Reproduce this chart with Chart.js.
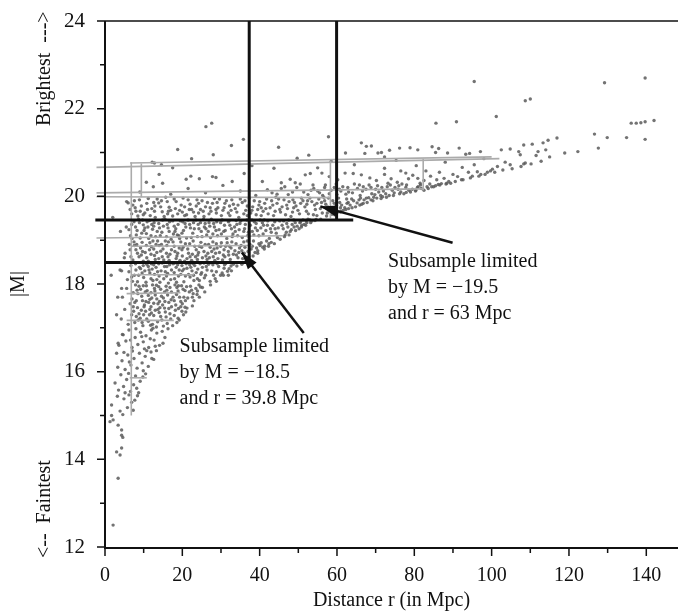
<!DOCTYPE html>
<html>
<head>
<meta charset="utf-8">
<script src="https://cdn.jsdelivr.net/npm/chart.js@4.4.1/dist/chart.umd.min.js"></script>
<style>
  html, body { margin: 0; padding: 0; background: #fff; }
</style>
</head>
<body>
<canvas id="c" width="682" height="616"></canvas>
<script>
// axis ticks
const xMajorTicks = [0, 20, 40, 60, 80, 100, 120, 140];
const xMinorTicks = [10, 30, 50, 70, 90, 110, 130];
const yMajorTicks = [12, 14, 16, 18, 20, 22, 24];
const yMinorTicks = [13, 15, 17, 19, 21, 23];

// galaxies: [distance r, |M|]
const galaxiesFaint = [
  [2.1,12.5],[3.4,13.57],[3.0,14.17],[3.9,14.1],[4.3,14.26],[4.3,14.55],[4.3,14.67],[3.4,14.78],[1.3,14.86],[2.1,14.9],[4.6,14.5],[1.7,15.0],
  [1.7,15.24],[3.9,15.1],[4.6,15.02],[5.8,15.18],[6.9,15.3],[7.7,15.35],[4.9,15.38],[8.4,15.45],[3.2,15.44],[6.2,15.47],[7.3,15.12],
  [2.6,15.74],[3.5,15.58],[4.8,15.66],[5.6,15.82],[6.6,15.55],[7.4,15.7],[8.2,15.62],[9.1,15.78],[9.8,15.88],[4.1,15.93],[6.1,15.96],[7.9,15.9],[10.5,15.95],[8.7,15.52],[5.2,15.52],
  [3.3,16.1],[4.4,16.25],[5.2,16.05],[5.9,16.38],[6.7,16.15],[7.5,16.3],[8.3,16.08],[8.9,16.42],[9.6,16.2],[10.4,16.35],[11.2,16.12],[11.9,16.45],[12.6,16.28],[13.3,16.48],[7.1,16.47],[9.9,16.02],[6.3,16.22],[10.8,16.48],[4.9,16.44],[12.1,16.3],[3.0,16.42],
  [3.6,16.6],[4.5,16.85],[5.4,16.7],[6.2,16.95],[7.0,16.55],[7.8,16.78],[8.5,16.62],[9.2,16.9],[9.9,16.68],[10.6,16.82],[11.3,16.55],[12.0,16.95],[12.7,16.72],[13.4,16.88],[14.1,16.6],[14.8,16.92],[15.5,16.78],[16.3,16.98],[8.0,16.98],[10.2,16.52],[11.7,16.75],[13.0,16.58],[6.6,16.72],[15.0,16.65],[9.5,16.8],[12.4,16.99],[3.4,16.65],[4.7,16.84]
];

const galaxiesMid = [
  [4.2,17.2],[5.1,17.42],[6.0,17.08],[6.9,17.3],[7.7,17.12],[8.4,17.46],[9.1,17.22],[9.8,17.05],[10.5,17.38],[11.2,17.15],[11.9,17.48],[12.6,17.28],[13.3,17.02],[14.0,17.35],[14.7,17.18],[15.4,17.45],[16.1,17.1],[16.8,17.32],[17.5,17.05],[18.2,17.4],[18.9,17.22],[19.6,17.48],[20.3,17.3],[21.2,17.45],[8.8,17.32],[10.1,17.48],[12.3,17.08],[13.7,17.42],[15.8,17.25],[17.2,17.48],[7.3,17.48],[11.5,17.3],
  [4.5,17.7],[5.6,17.9],[6.5,17.55],[7.3,17.8],[8.1,17.62],[8.8,17.95],[9.5,17.72],[10.2,17.52],[10.9,17.85],[11.6,17.65],[12.3,17.98],[13.0,17.75],[13.7,17.55],[14.4,17.88],[15.1,17.68],[15.8,17.95],[16.5,17.58],[17.2,17.82],[17.9,17.62],[18.6,17.92],[19.3,17.7],[20.0,17.55],[20.7,17.85],[21.4,17.68],[22.1,17.95],[22.8,17.78],[23.5,17.9],[24.3,17.98],[25.2,17.92],[9.2,17.88],[11.3,17.58],[12.8,17.9],[14.9,17.52],[16.2,17.75],[18.3,17.52],[19.8,17.96],[21.8,17.82],[13.4,17.66],[7.9,17.98],[23.0,17.62],
  [4.3,18.3],[5.8,18.1],[6.7,18.42],[7.6,18.2],[8.4,18.05],[9.2,18.35],[10.0,18.15],[10.8,18.45],[11.6,18.25],[12.4,18.08],[13.2,18.38],[14.0,18.18],[14.8,18.48],[15.6,18.28],[16.4,18.02],[17.2,18.32],[18.0,18.12],[18.8,18.44],[19.6,18.22],[20.4,18.05],[21.2,18.36],[22.0,18.16],[22.8,18.46],[23.6,18.26],[24.4,18.08],[25.2,18.38],[26.0,18.2],[26.8,18.45],[27.6,18.3],[28.5,18.12],[29.4,18.4],[30.3,18.25],[31.2,18.46],[32.1,18.35],[33.2,18.45],[9.6,18.25],[11.2,18.4],[13.6,18.28],[15.2,18.12],[17.6,18.46],[19.2,18.32],[21.6,18.22],[23.2,18.42],[24.8,18.22],[27.2,18.06],[8.0,18.32],[12.0,18.46],[16.0,18.4],[20.0,18.3],[25.6,18.48],
  [5.2,18.7],[6.3,18.9],[7.2,18.55],[8.0,18.78],[8.8,18.62],[9.6,18.95],[10.4,18.72],[11.2,18.52],[12.0,18.85],[12.8,18.65],[13.6,18.98],[14.4,18.75],[15.2,18.55],[16.0,18.88],[16.8,18.68],[17.6,18.96],[18.4,18.58],[19.2,18.82],[20.0,18.64],[20.8,18.92],[21.6,18.7],[22.4,18.54],[23.2,18.86],[24.0,18.66],[24.8,18.95],[25.6,18.74],[26.4,18.56],[27.2,18.84],[28.0,18.62],[28.8,18.92],[29.6,18.72],[30.4,18.55],[31.2,18.86],[32.0,18.66],[32.8,18.96],[33.6,18.76],[34.4,18.6],[35.2,18.88],[36.0,18.7],[36.8,18.98],[37.8,18.8],[38.8,18.72],[39.8,18.92],[40.8,18.84],[41.8,18.98],[43.0,18.95],[9.2,18.82],[10.8,18.6],[13.2,18.9],[14.8,18.62],[17.2,18.78],[18.8,18.7],[21.2,18.58],[22.8,18.98],[25.2,18.6],[26.8,18.9],[29.2,18.58],[30.8,18.78],[33.2,18.68],[34.8,18.82],[37.2,18.62],[11.6,18.94],[15.6,18.98],[19.6,18.96],[23.6,18.78],[27.6,18.74],[31.6,18.94],[35.6,18.58],[39.2,18.82],[7.6,18.88],
  [3.9,18.32],[4.3,17.9],[3.0,17.3],[3.3,17.7],[5.0,18.6],[1.6,18.2]
];

const galaxiesBright = [
  [5.5,19.3],[6.6,19.1],[7.5,19.42],[8.3,19.22],[9.1,19.05],[9.9,19.35],[10.7,19.15],[11.5,19.45],[12.3,19.25],[13.1,19.08],[13.9,19.38],[14.7,19.18],[15.5,19.48],[16.3,19.28],[17.1,19.02],[17.9,19.32],[18.7,19.12],[19.5,19.44],[20.3,19.22],[21.1,19.05],[21.9,19.36],[22.7,19.16],[23.5,19.46],[24.3,19.26],[25.1,19.08],[25.9,19.38],[26.7,19.2],[27.5,19.48],[28.3,19.3],[29.1,19.1],[29.9,19.4],[30.7,19.2],[31.5,19.04],[32.3,19.34],[33.1,19.14],[33.9,19.45],[34.7,19.24],[35.5,19.06],[36.3,19.36],[37.1,19.18],[38.0,19.46],[38.9,19.28],[39.8,19.1],[40.7,19.4],[41.6,19.22],[42.5,19.04],[43.4,19.34],[44.3,19.16],[45.2,19.44],[46.1,19.26],[47.0,19.38],[47.9,19.2],[48.8,19.46],[49.7,19.32],[50.6,19.42],[51.5,19.36],[52.5,19.48],[53.5,19.44],[54.6,19.47],[10.3,19.28],[12.7,19.4],[14.3,19.1],[16.7,19.42],[18.3,19.26],[20.7,19.38],[22.3,19.06],[24.7,19.4],[26.3,19.12],[28.7,19.22],[30.3,19.46],[32.7,19.26],[34.3,19.1],[36.7,19.46],[38.5,19.12],[40.3,19.28],[42.1,19.44],[44.8,19.28],[46.6,19.12],[48.4,19.36],[50.2,19.26],[8.7,19.48],[19.1,19.1],[27.1,19.32],[35.1,19.44],
  [6.5,19.7],[7.6,19.9],[8.5,19.55],[9.4,19.78],[10.3,19.62],[11.2,19.95],[12.1,19.72],[13.0,19.52],[13.9,19.85],[14.8,19.65],[15.7,19.98],[16.6,19.75],[17.5,19.55],[18.4,19.88],[19.3,19.68],[20.2,19.96],[21.1,19.58],[22.0,19.82],[22.9,19.64],[23.8,19.92],[24.7,19.7],[25.6,19.54],[26.5,19.86],[27.4,19.66],[28.3,19.95],[29.2,19.74],[30.1,19.56],[31.0,19.84],[31.9,19.62],[32.8,19.92],[33.7,19.72],[34.6,19.52],[35.5,19.86],[36.4,19.68],[37.3,19.96],[38.2,19.76],[39.1,19.58],[40.0,19.88],[40.9,19.66],[41.8,19.94],[42.7,19.74],[43.6,19.56],[44.5,19.84],[45.4,19.64],[46.3,19.92],[47.2,19.72],[48.1,19.54],[49.0,19.86],[49.9,19.68],[50.8,19.96],[51.7,19.76],[52.6,19.6],[53.5,19.88],[54.4,19.7],[55.3,19.94],[56.2,19.62],[57.1,19.82],[58.0,19.72],[58.9,19.9],[59.8,19.78],[60.7,19.86],[61.6,19.68],[62.5,19.94],[63.4,19.8],[64.3,19.9],[65.2,19.85],[66.1,19.96],[67.0,19.92],[68.2,19.97],[69.5,19.98],[54.8,19.56],[57.5,19.62],[60.2,19.64],[62.0,19.74],[64.8,19.76],[66.8,19.84],[16.2,19.6],[24.2,19.84],[32.2,19.78],[40.4,19.74],[48.6,19.92],[12.6,19.86],[20.6,19.76],[28.8,19.62],[36.8,19.56],[44.2,19.98],[52.2,19.82],[56.6,19.98],[59.4,19.58],[6.0,19.85],[5.6,19.88],[2.0,19.52],[4.0,19.2],
  [9.0,20.1],[12.5,20.22],[17.0,20.05],[21.5,20.18],[26.0,20.08],[30.5,20.25],[35.0,20.12],[39.0,20.02],[42.0,20.15],[44.5,20.05],[46.5,20.22],[48.5,20.1],[50.5,20.28],[52.5,20.04],[54.0,20.18],[55.5,20.08],[57.0,20.26],[58.5,20.14],[60.0,20.04],[61.5,20.22],[63.0,20.1],[64.5,20.28],[66.0,20.02],[67.5,20.16],[69.0,20.06],[70.5,20.24],[72.0,20.12],[73.5,20.02],[75.0,20.2],[76.5,20.1],[78.0,20.26],[79.5,20.16],[81.0,20.22],[82.5,20.14],[84.0,20.28],[85.5,20.24],[87.0,20.29],[62.3,20.05],[65.3,20.18],[68.3,20.26],[71.3,20.02],[74.3,20.14],[77.3,20.06],[80.3,20.12],[83.3,20.22],[59.3,20.2],[56.3,20.02],[53.3,20.14],[73.0,20.22],[70.0,20.16],[76.0,20.24],[79.0,20.1]
];

// the packed middle of the cloud
const galaxiesCore = [
  [7.4,17.38],[8.6,17.18],[9.4,17.4],[10.8,17.2],[11.8,17.06],[13.0,17.4],[14.4,17.26],[15.1,17.04],[16.5,17.44],[17.9,17.28],[18.6,17.12],[19.9,17.38],[20.7,17.47],[12.0,17.34],[9.6,17.12],
  [7.0,17.66],[7.7,17.58],[8.5,17.78],[9.9,17.96],[10.6,17.6],[11.9,17.8],[12.6,17.56],[13.9,17.94],[14.6,17.72],[15.5,17.6],[16.8,17.92],[17.6,17.7],[18.9,17.84],[19.6,17.6],[20.4,17.7],[21.1,17.94],[22.4,17.86],[23.9,17.84],[24.7,17.93],[10.4,17.82],[12.1,17.68],[16.0,17.86],[18.1,17.98],[20.2,17.88],
  [6.2,18.28],[7.1,18.06],[7.9,18.46],[8.7,18.2],[9.9,18.42],[10.6,18.04],[11.4,18.32],[12.8,18.22],[13.9,18.46],[14.5,18.3],[15.9,18.18],[16.7,18.44],[17.9,18.26],[18.5,18.04],[19.9,18.42],[20.8,18.18],[21.9,18.44],[22.5,18.3],[23.9,18.12],[24.6,18.46],[25.7,18.14],[26.4,18.32],[27.9,18.44],[28.8,18.28],[29.9,18.2],[30.8,18.36],[31.7,18.29],[32.6,18.41],[11.9,18.12],[16.2,18.24],[20.4,18.34],[25.0,18.26],[13.4,18.1],[18.4,18.38],[22.9,18.2],
  [6.7,18.62],[7.5,18.96],[8.4,18.7],[9.9,18.52],[10.7,18.88],[11.9,18.68],[12.4,18.98],[13.9,18.58],[14.6,18.9],[15.9,18.7],[16.6,18.54],[17.9,18.86],[18.6,18.64],[19.9,18.78],[20.6,18.52],[21.9,18.92],[22.6,18.68],[23.9,18.56],[24.4,18.86],[25.9,18.9],[26.6,18.7],[27.9,18.96],[28.4,18.54],[29.9,18.86],[30.6,18.66],[31.9,18.74],[32.4,18.56],[33.9,18.92],[34.6,18.72],[35.9,18.96],[36.4,18.6],[37.5,18.9],[38.4,18.98],[39.5,18.76],[40.4,18.94],[41.3,18.86],[42.4,18.92],[9.4,18.66],[12.6,18.8],[16.4,18.96],[20.2,18.84],[24.2,18.72],[28.2,18.8],[32.2,18.86],[36.2,18.84],[13.0,18.56],[27.0,18.6],[31.0,18.62],
  [6.2,19.24],[7.0,19.04],[7.9,19.3],[8.9,19.4],[9.5,19.16],[10.9,19.42],[11.9,19.1],[12.6,19.32],[13.5,19.2],[14.9,19.46],[15.9,19.08],[16.6,19.2],[17.5,19.44],[18.9,19.36],[19.9,19.16],[20.9,19.3],[21.5,19.46],[22.9,19.4],[23.9,19.08],[24.9,19.2],[25.5,19.48],[26.9,19.4],[27.9,19.14],[28.9,19.42],[29.5,19.24],[30.9,19.34],[31.9,19.42],[32.9,19.08],[33.5,19.3],[34.9,19.38],[35.9,19.2],[36.9,19.1],[37.6,19.34],[38.6,19.42],[39.4,19.22],[40.9,19.14],[41.2,19.46],[42.8,19.26],[43.9,19.42],[44.6,19.06],[45.8,19.34],[46.9,19.18],[47.5,19.46],[48.2,19.24],[49.2,19.4],[50.9,19.34],[51.2,19.46],[52.2,19.4],[53.0,19.46],[11.1,19.3],[15.1,19.32],[23.1,19.26],[31.1,19.22],[39.1,19.38],[43.0,19.18],[47.3,19.3],[9.7,19.46],[17.7,19.14],[25.7,19.3],[33.7,19.2],[41.0,19.34],
  [6.9,19.6],[7.2,19.8],[8.0,19.66],[8.9,19.92],[9.9,19.58],[10.8,19.84],[11.7,19.56],[12.8,19.66],[13.5,19.94],[14.4,19.76],[15.3,19.54],[16.1,19.88],[17.0,19.68],[17.9,19.94],[18.8,19.6],[19.7,19.8],[20.6,19.56],[21.5,19.92],[22.4,19.7],[23.3,19.54],[24.2,19.62],[25.1,19.9],[26.0,19.76],[26.9,19.6],[27.8,19.84],[28.7,19.7],[29.6,19.94],[30.5,19.68],[31.4,19.9],[32.3,19.56],[33.2,19.82],[34.1,19.64],[35.0,19.94],[35.9,19.6],[36.8,19.78],[37.7,19.62],[38.6,19.9],[39.5,19.7],[40.4,19.56],[41.3,19.84],[42.2,19.6],[43.1,19.9],[44.0,19.66],[44.9,19.94],[45.8,19.76],[46.7,19.58],[47.6,19.88],[48.5,19.64],[49.4,19.78],[50.3,19.6],[51.2,19.9],[52.1,19.66],[53.0,19.96],[53.9,19.58],[54.8,19.84],[55.7,19.72],[56.8,19.9],[57.8,19.96],[58.4,19.66],[59.3,19.84],[60.4,19.96],[61.2,19.8],[62.9,19.86],[63.8,19.94],[65.7,19.92],[67.6,19.96],[68.8,19.92],[70.3,19.96],[71.8,19.99],[63.0,19.72],[65.9,19.8],[61.0,19.66],
  [43.2,20.08],[45.6,20.18],[47.4,20.04],[49.6,20.2],[51.4,20.1],[53.8,20.26],[55.0,20.12],[56.8,20.2],[58.0,20.06],[59.8,20.28],[61.0,20.12],[62.8,20.2],[64.0,20.08],[65.8,20.26],[66.6,20.12],[68.8,20.2],[69.8,20.04],[71.6,20.2],[72.6,20.06],[74.8,20.08],[75.8,20.16],[77.8,20.2],[78.6,20.14],[80.8,20.2],[81.6,20.26],[83.6,20.18],[85.0,20.22],[86.6,20.26],[88.2,20.28],[89.4,20.3],[60.6,20.16],[66.8,20.22],[70.8,20.1],[76.8,20.28],[73.8,20.26]
];

const galaxiesFill = [
  [8.1,17.26],[10.0,17.3],[11.6,17.42],[13.6,17.14],[15.6,17.36],[17.0,17.2],[19.0,17.44],[14.2,17.46],
  [8.3,17.86],[9.7,17.62],[11.2,17.74],[12.9,17.84],[14.1,17.6],[15.4,17.82],[17.1,17.64],[18.5,17.76],[20.8,17.62],[22.6,17.7],[23.8,17.76],[19.0,17.96],[13.3,17.97],[10.7,17.96],
  [6.9,18.16],[8.9,18.38],[10.3,18.3],[12.2,18.34],[14.2,18.04],[15.4,18.4],[17.0,18.1],[19.0,18.18],[21.0,18.46],[23.0,18.08],[24.0,18.34],[26.2,18.4],[28.1,18.2],[29.0,18.46],[30.9,18.44],[31.9,18.2],[18.0,18.48],[22.2,18.38],[12.6,18.44],
  [6.5,18.78],[8.2,18.9],[9.7,18.74],[11.5,18.78],[13.4,18.72],[15.0,18.8],[16.3,18.62],[18.1,18.74],[19.4,18.54],[21.4,18.8],[23.4,18.62],[25.0,18.84],[26.1,18.64],[28.6,18.7],[30.1,18.94],[32.6,18.82],[34.0,18.66],[35.4,18.76],[37.0,18.74],[38.1,18.86],[40.1,18.88],[14.0,18.88],[22.0,18.62],[29.0,18.82],
  [6.9,19.36],[8.1,19.12],[10.1,19.22],[12.1,19.36],[14.1,19.28],[16.1,19.36],[18.1,19.2],[20.1,19.42],[22.1,19.28],[24.1,19.36],[26.1,19.26],[28.1,19.38],[30.1,19.14],[32.1,19.44],[34.1,19.36],[36.1,19.26],[38.1,19.2],[40.1,19.46],[42.0,19.34],[44.0,19.26],[46.2,19.44],[48.9,19.3],[50.4,19.4],[52.0,19.44],[27.3,19.06],[19.3,19.04],[11.3,19.04],
  [7.8,19.74],[9.1,19.66],[11.0,19.7],[12.9,19.78],[14.6,19.9],[16.4,19.66],[18.2,19.72],[20.0,19.64],[21.8,19.7],[23.6,19.78],[25.4,19.66],[27.2,19.74],[29.0,19.86],[30.8,19.74],[32.6,19.68],[34.4,19.8],[36.2,19.9],[38.0,19.68],[39.8,19.8],[41.6,19.72],[43.4,19.8],[45.2,19.7],[47.0,19.8],[48.8,19.74],[50.6,19.84],[52.4,19.9],[54.2,19.8],[56.0,19.86],[57.6,19.76],[59.0,19.7],[60.9,19.74],[62.6,19.84]
];

// the crowded lower-right edge of the cloud
const galaxiesEdge = [
  [19.2,17.18],[20.9,17.36],[22.6,17.5],[24.4,17.7],[25.8,17.82],[27.3,17.98],[28.8,18.06],[30.6,18.2],[32.7,18.3],[34.1,18.41],[35.4,18.45],[36.9,18.6],[38.3,18.64],[39.5,18.7],[41.2,18.8],[42.3,18.86],[43.8,18.92],[45.3,19.02],[46.4,19.08],[47.6,19.12],[49.3,19.22],[50.8,19.3],[51.9,19.34],[53.2,19.4],[54.3,19.45],[55.8,19.48],[57.3,19.55],[58.7,19.59],[60.9,19.64],[62.3,19.7],[63.9,19.74],[66.4,19.82],[67.8,19.86],[69.3,19.9],[71.4,19.95],[72.8,19.98],[74.6,20.02],[76.2,20.06],[77.9,20.09],[80.4,20.14],[81.8,20.18],[84.5,20.22],[86.2,20.27],[88.4,20.3],[90.6,20.34],[92.2,20.38],[94.5,20.42],[96.7,20.46],[98.3,20.5],[100.8,20.55],[102.9,20.6],[105.3,20.63],[107.6,20.68],[110.2,20.74],[112.8,20.8]
];

const galaxiesTop = [
  [10.7,20.32],[14.0,20.5],[14.9,20.3],[21.0,20.39],[22.2,20.46],[24.4,20.4],[27.8,20.45],[28.7,20.43],[32.9,20.34],[40.7,20.34],[45.6,20.31],[47.9,20.39],[49.2,20.31],[51.8,20.49],[53.1,20.52],[56.1,20.53],[62.1,20.53],[64.2,20.52],[66.3,20.49],[68.5,20.42],[70.2,20.36],[72.3,20.5],[74.0,20.4],[75.6,20.32],[76.5,20.58],[77.8,20.53],[79.6,20.48],[80.9,20.41],[82.5,20.36],[84.2,20.46],[85.8,20.38],[87.7,20.41],[88.9,20.34],[90.0,20.5],[91.2,20.45],[92.6,20.38],[94.0,20.55],[95.0,20.46],[96.3,20.56],[97.2,20.5],[98.9,20.55],[99.7,20.58],[86.5,20.55],[83.0,20.58],[78.5,20.4],[73.2,20.3],[81.5,20.3],[60.2,20.38],[58.0,20.45],[36.0,20.52],
  [12.2,20.78],[12.8,20.76],[14.6,20.72],[22.4,20.86],[18.8,21.07],[32.7,21.16],[43.7,20.64],[44.9,21.12],[49.7,20.87],[52.7,20.94],[62.2,20.99],[66.3,21.22],[67.6,21.14],[68.9,21.15],[67.2,20.98],[70.6,20.99],[71.5,21.0],[72.3,20.9],[72.3,20.64],[73.6,21.05],[76.2,21.1],[78.9,21.11],[80.9,21.06],[84.6,21.13],[85.5,21.0],[86.3,21.09],[88.6,20.99],[91.6,21.1],[93.3,20.96],[94.3,20.98],[95.5,20.72],[97.1,21.02],[100.2,20.62],[101.5,20.68],[102.5,21.06],[103.5,20.78],[104.8,21.08],[104.8,20.72],[107.0,21.02],[107.4,20.95],[108.3,21.17],[108.3,20.74],[108.7,20.76],[110.5,21.19],[111.5,20.93],[112.0,21.02],[113.3,21.22],[114.0,21.06],[114.6,21.28],[115.0,20.9],[116.9,21.33],[118.9,20.99],[122.3,21.02],[126.6,21.42],[127.6,21.1],[129.9,21.34],[134.9,21.34],[139.7,21.3],[75.3,20.82],[80.5,20.7],[88.0,20.78],[92.4,20.66],[98.0,20.86],[64.5,20.72],[58.5,20.8],[55.0,20.65],[38.0,20.7],[28.0,20.95],[17.5,20.65],
  [26.1,21.59],[27.6,21.67],[57.8,21.36],[85.6,21.67],[90.9,21.7],[101.2,21.82],[95.5,22.62],[108.7,22.18],[110.0,22.22],[129.2,22.59],[136.1,21.67],[137.4,21.67],[138.6,21.68],[139.7,21.7],[142.0,21.73],[139.7,22.7],[35.8,21.3]
];

// thin grey outlines of the nested subsamples: [x1, y1, x2, y2]
const guideLines = [
  [-2.2,20.66,102,20.86],[6.5,20.76,100,20.9],[-2.2,20.08,82.3,20.17],[-2.2,19.99,58.3,19.97],
  [82.3,20.86,82.3,20.14],[58.3,20.8,58.3,19.5],[6.8,20.78,6.8,15.0],[9.4,20.75,9.4,19.98],
  [-2.2,19.05,46,19.1],[6.8,18.86,38,18.88],[6.8,18.21,23,18.21],[5.6,17.78,19.5,17.8],
  [5.6,17.17,17.8,17.17],[6.4,15.86,10.8,15.86]
];

// thick black limits of the two subsamples
const limitA = [[0,18.49],[37.3,18.49],[37.3,24]];
const limitB = [[-2.5,19.46],[64.2,19.46]];
const limitBv = [[59.9,19.46],[59.9,24]];

// arrows: [tail, tip]
const arrows = [
  [[89.9,18.94],[55.7,19.77]],
  [[51.4,16.88],[35.4,18.72]]
];

const noteRight = ['Subsample limited', 'by M = \u221219.5', 'and r = 63 Mpc'];
const noteRightAt = [73.2, 18.5];
const noteLeft = ['Subsample limited', 'by M = \u221218.5', 'and r = 39.8 Mpc'];
const noteLeftAt = [19.3, 16.56];

const SERIF = '"Liberation Serif", "DejaVu Serif", serif';
const INK = '#111';

const pts = arr => arr.map(([x, y]) => ({x, y}));

const lineSet = (data, color, width) => ({
  data: pts(data),
  showLine: true,
  borderColor: color,
  borderWidth: width,
  pointRadius: 0,
  clip: false,
  order: 1
});

const datasets = [];
[galaxiesFaint, galaxiesMid, galaxiesBright, galaxiesCore, galaxiesFill, galaxiesEdge, galaxiesTop].forEach(g => {
  datasets.push({
    data: pts(g),
    pointRadius: 1.7,
    pointBackgroundColor: 'rgba(90,90,90,0.85)',
    pointBorderWidth: 0,
    order: 3
  });
});
guideLines.forEach(s => {
  const d = lineSet([[s[0], s[1]], [s[2], s[3]]], '#ababab', 1.6);
  d.order = 2;
  datasets.push(d);
});
[limitA, limitB, limitBv].forEach(l => datasets.push(lineSet(l, INK, 3)));
arrows.forEach(a => datasets.push(lineSet(a, INK, 2.5)));

// frame, ticks, arrow heads, notes and side labels
const decor = {
  id: 'decor',
  afterDatasetsDraw(chart) {
    const {ctx, chartArea: a} = chart;
    const x = chart.scales.x, y = chart.scales.y;
    ctx.save();
    ctx.strokeStyle = INK;
    ctx.lineCap = 'butt';

    ctx.lineWidth = 1.5;
    ctx.beginPath();
    ctx.moveTo(a.left, a.top); ctx.lineTo(a.right, a.top);
    ctx.stroke();

    ctx.lineWidth = 2;
    ctx.beginPath();
    ctx.moveTo(a.left, a.top); ctx.lineTo(a.left, a.bottom + 1); ctx.lineTo(a.right, a.bottom + 1);
    ctx.stroke();

    ctx.lineWidth = 1.5;
    ctx.beginPath();
    xMajorTicks.forEach(v => { const px = x.getPixelForValue(v); ctx.moveTo(px, a.bottom); ctx.lineTo(px, a.bottom + 9); });
    xMinorTicks.forEach(v => { const px = x.getPixelForValue(v); ctx.moveTo(px, a.bottom); ctx.lineTo(px, a.bottom + 6); });
    yMajorTicks.forEach(v => { const py = y.getPixelForValue(v); ctx.moveTo(a.left, py); ctx.lineTo(a.left - 8, py); });
    yMinorTicks.forEach(v => { const py = y.getPixelForValue(v); ctx.moveTo(a.left, py); ctx.lineTo(a.left - 5, py); });
    ctx.stroke();

    // arrow heads
    ctx.fillStyle = INK;
    arrows.forEach(([tail, tip]) => {
      const x0 = x.getPixelForValue(tail[0]), y0 = y.getPixelForValue(tail[1]);
      const x1 = x.getPixelForValue(tip[0]), y1 = y.getPixelForValue(tip[1]);
      const ang = Math.atan2(y1 - y0, x1 - x0);
      const len = 17, half = 5.5;
      const bx = x1 - len * Math.cos(ang), by = y1 - len * Math.sin(ang);
      ctx.beginPath();
      ctx.moveTo(x1, y1);
      ctx.lineTo(bx + half * Math.sin(ang), by - half * Math.cos(ang));
      ctx.lineTo(bx - half * Math.sin(ang), by + half * Math.cos(ang));
      ctx.closePath();
      ctx.fill();
    });

    // notes
    ctx.font = '20px ' + SERIF;
    ctx.textAlign = 'left';
    ctx.textBaseline = 'middle';
    [[noteRight, noteRightAt], [noteLeft, noteLeftAt]].forEach(([lines, at]) => {
      const px = x.getPixelForValue(at[0]), py = y.getPixelForValue(at[1]);
      lines.forEach((t, i) => ctx.fillText(t, px, py + i * 25.8));
    });

    // rotated side labels
    const side = (text, cx, cy, align) => {
      ctx.save();
      ctx.translate(cx, cy);
      ctx.rotate(-Math.PI / 2);
      ctx.textAlign = align;
      ctx.textBaseline = 'middle';
      ctx.fillText(text, 0, 0);
      ctx.restore();
    };
    side('|M|', 19, (a.top + a.bottom) / 2, 'center');
    side('Brightest  --->', 45, 126, 'left');
    side('<--  Faintest', 45, 558, 'left');
    ctx.restore();
  }
};

new Chart(document.getElementById('c'), {
  type: 'scatter',
  data: { datasets },
  options: {
    responsive: false,
    devicePixelRatio: 1,
    animation: false,
    layout: { padding: { top: 21, right: 0, left: 0, bottom: 0 } },
    plugins: { legend: { display: false }, tooltip: { enabled: false } },
    scales: {
      x: {
        type: 'linear', min: 0, max: 148.2,
        grid: { display: false, drawTicks: false },
        border: { display: false },
        ticks: { stepSize: 20, includeBounds: false, padding: 17, color: INK, font: { family: SERIF, size: 20 }, maxRotation: 0 },
        title: { display: true, text: 'Distance r (in Mpc)', color: INK, font: { family: SERIF, size: 20 }, padding: { top: 0, bottom: 3 } },
        afterFit(s) { s.height = 69; s.paddingLeft = 0; s.paddingRight = 0; }
      },
      y: {
        type: 'linear', min: 12, max: 24,
        grid: { display: false, drawTicks: false },
        border: { display: false },
        ticks: { stepSize: 2, padding: 20, color: INK, font: { family: SERIF, size: 21 } },
        afterFit(s) { s.width = 105; s.paddingTop = 0; s.paddingBottom = 0; }
      }
    }
  },
  plugins: [decor]
});
</script>
</body>
</html>
